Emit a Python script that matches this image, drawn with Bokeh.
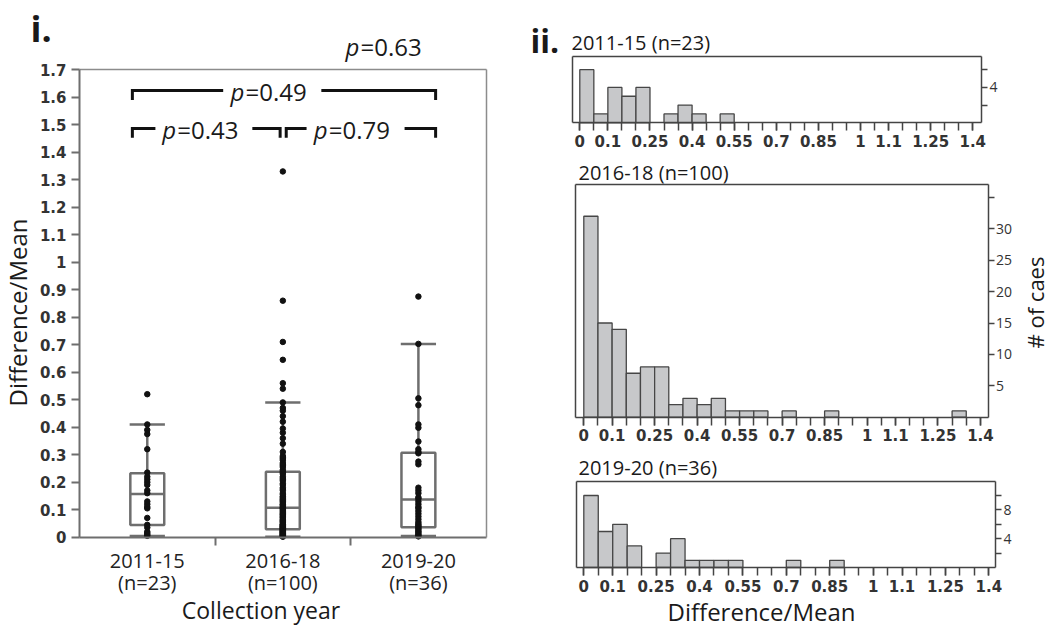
import math
from bokeh.plotting import figure
from bokeh.models import FixedTicker, CustomJSTickFormatter, Label, Range1d, LinearAxis
from bokeh.layouts import row, column
from bokeh.embed import file_html
from bokeh.resources import INLINE

# ---------------- data ----------------
groups = ["2011-15", "2016-18", "2019-20"]
group_n = [23, 100, 36]

vals_2011 = [0.005, 0.01, 0.015, 0.02, 0.035, 0.045, 0.07, 0.105, 0.11, 0.12, 0.13,
             0.16, 0.17, 0.19, 0.2, 0.21, 0.22, 0.235, 0.32, 0.375, 0.39, 0.41, 0.52]
vals_2016 = [0.002, 0.003, 0.005, 0.006, 0.008, 0.009, 0.01, 0.012, 0.013, 0.015, 0.016,
             0.018, 0.019, 0.02, 0.022, 0.023, 0.025, 0.026, 0.028, 0.029, 0.031, 0.032,
             0.034, 0.035, 0.037, 0.038, 0.04, 0.041, 0.043, 0.045, 0.046, 0.048,
             0.052, 0.055, 0.058, 0.06, 0.063, 0.066, 0.07, 0.073, 0.076, 0.08, 0.083,
             0.086, 0.09, 0.094, 0.098,
             0.102, 0.105, 0.108, 0.11, 0.115, 0.118, 0.12, 0.125, 0.13, 0.133, 0.137,
             0.14, 0.145, 0.148,
             0.155, 0.16, 0.17, 0.175, 0.18, 0.19, 0.195,
             0.205, 0.21, 0.215, 0.22, 0.23, 0.235, 0.24, 0.245,
             0.255, 0.26, 0.265, 0.27, 0.28, 0.285, 0.29, 0.295,
             0.31, 0.34, 0.36, 0.38, 0.395, 0.42, 0.44, 0.46, 0.47, 0.49,
             0.54, 0.56, 0.645, 0.71, 0.86, 1.33]
vals_2019 = [0.003, 0.008, 0.012, 0.018, 0.022, 0.028, 0.033, 0.038, 0.043, 0.048,
             0.055, 0.065, 0.075, 0.085, 0.095,
             0.105, 0.11, 0.12, 0.13, 0.14, 0.145,
             0.16, 0.17, 0.18, 0.265, 0.275, 0.305, 0.31, 0.32, 0.348,
             0.398, 0.41, 0.48, 0.505, 0.703, 0.875]

box_q1 = [0.044, 0.029, 0.036]
box_median = [0.157, 0.107, 0.137]
box_q3 = [0.233, 0.238, 0.307]
whisker_low = [0.004, 0.002, 0.004]
whisker_high = [0.41, 0.49, 0.703]

p_values = ["0.63", "0.49", "0.43", "0.79"]

bin_width = 0.05
hist_2011 = [6, 1, 4, 3, 4, 0, 1, 2, 1, 0, 1, 0, 0, 0, 0, 0, 0, 0, 0, 0, 0, 0, 0, 0, 0, 0, 0, 0]
hist_2016 = [32, 15, 14, 7, 8, 8, 2, 3, 2, 3, 1, 1, 1, 0, 1, 0, 0, 1, 0, 0, 0, 0, 0, 0, 0, 0, 1, 0]
hist_2019 = [10, 5, 6, 3, 0, 2, 4, 1, 1, 1, 1, 0, 0, 0, 1, 0, 0, 1, 0, 0, 0, 0, 0, 0, 0, 0, 0, 0]
hist_xlabels = [0, 0.1, 0.25, 0.4, 0.55, 0.7, 0.85, 1, 1.1, 1.25, 1.4]

# ---------------- style ----------------
GRAY = "#6e6e6e"
HGRAY = "#444444"
TXT = "#1a1a1a"
FONT = "Open Sans"
BASE_SHIFT = 0.35   # glyph baseline correction, in em


class Panel:
    """A figure whose frame fills the whole canvas; (x0, y0) is the pixel of data (0, 0)."""

    def __init__(self, w, h, x0, ux, y0, uy):
        self.x0, self.ux, self.y0, self.uy = x0, ux, y0, uy
        self.fig = figure(width=w, height=h,
                          x_range=Range1d(-x0 / ux, (w - x0) / ux),
                          y_range=Range1d(-(h - y0) / uy, y0 / uy),
                          x_axis_location=None, y_axis_location=None, min_border=0,
                          output_backend="svg", toolbar_location=None)
        self.fig.grid.visible = False
        self.fig.outline_line_color = None

    def text(self, px, py, text, size, style="normal", align="left", angle=0.0,
             x_offset=0, shift=True):
        if shift:
            py -= BASE_SHIFT * size
        self.fig.add_layout(Label(x=(px - self.x0) / self.ux, y=(self.y0 - py) / self.uy,
                                  text=text, text_font=FONT, text_font_size=f"{size}px",
                                  text_font_style=style, text_align=align,
                                  text_baseline="alphabetic", angle=angle,
                                  x_offset=x_offset, text_color=TXT))


def border_axis(fig, side, loc, bounds, color, width):
    ax = LinearAxis(fixed_location=loc, bounds=bounds, ticker=FixedTicker(ticks=[]),
                    axis_line_color=color, axis_line_width=width,
                    major_tick_line_color=None, minor_tick_line_color=None,
                    major_label_text_font_size="0px")
    fig.add_layout(ax, side)
    return ax


# ---------------- left panel (box plot) ----------------
L = Panel(520, 630, 79, 135.56, 536.7, 275)
p = L.fig
n_groups = len(groups)

ya = LinearAxis(fixed_location=0, bounds=(0, 1.7),
                ticker=FixedTicker(ticks=[round(i * 0.1, 1) for i in range(18)]),
                formatter=CustomJSTickFormatter(code="return String(Math.round(tick*10)/10);"))
ya.major_label_text_font = "DejaVu Sans"
ya.major_label_text_font_style = "bold"
ya.major_label_text_font_size = "15px"
ya.major_label_text_color = "#333333"
ya.major_tick_out = 8
ya.major_tick_in = 0
ya.minor_tick_out = 0
ya.minor_tick_in = 0
ya.major_label_standoff = 5
ya.axis_line_color = GRAY
ya.axis_line_width = 2
ya.major_tick_line_color = GRAY
ya.major_tick_line_width = 2
p.add_layout(ya, "left")

xlabels = [f"{g}\n(n={n})" for g, n in zip(groups, group_n)]
xa = LinearAxis(fixed_location=0, bounds=(0, n_groups),
                ticker=FixedTicker(ticks=[i + 0.5 for i in range(n_groups)],
                                   minor_ticks=list(range(1, n_groups))),
                formatter=CustomJSTickFormatter(args=dict(labels=xlabels),
                                                code="return labels[Math.round(tick-0.5)];"))
xa.major_tick_out = 0
xa.major_tick_in = 0
xa.minor_tick_out = 8
xa.minor_tick_in = 0
xa.minor_tick_line_color = GRAY
xa.minor_tick_line_width = 2
xa.axis_line_color = GRAY
xa.axis_line_width = 2
xa.major_label_text_font = FONT
xa.major_label_text_font_size = "20px"
xa.major_label_text_line_height = 0.8
xa.major_label_text_color = "#222222"
xa.major_label_standoff = 2
p.add_layout(xa, "below")

border_axis(p, "above", 1.7, (0, n_groups), "#8c8c8c", 1.5)
border_axis(p, "right", n_groups, (0, 1.7), "#8c8c8c", 1.5)

centers = [i + 0.5 for i in range(n_groups)]
half = 0.125
cap = 0.13

p.quad(left=[c - half for c in centers], right=[c + half for c in centers],
       bottom=box_q1, top=box_q3, fill_color=None, line_color=GRAY, line_width=2.5)
p.segment(x0=[c - half for c in centers], x1=[c + half for c in centers],
          y0=box_median, y1=box_median, line_color=GRAY, line_width=2.5)
p.segment(x0=centers, x1=centers, y0=box_q3, y1=whisker_high, line_color=GRAY, line_width=2.5)
p.segment(x0=centers, x1=centers, y0=box_q1, y1=whisker_low, line_color=GRAY, line_width=2.5)
p.segment(x0=[c - cap for c in centers], x1=[c + cap for c in centers],
          y0=whisker_high, y1=whisker_high, line_color=GRAY, line_width=2.5)
p.segment(x0=[c - cap for c in centers], x1=[c + cap for c in centers],
          y0=whisker_low, y1=whisker_low, line_color=GRAY, line_width=2.5)

px, py = [], []
for c, vals in zip(centers, [vals_2011, vals_2016, vals_2019]):
    px += [c] * len(vals)
    py += vals
p.scatter(x=px, y=py, size=5.5, fill_color="#111111", line_color="#111111", marker="circle")

# significance brackets
top_y, top_leg = 1.624, 1.59
low_y, low_leg = 1.486, 1.453
bx = [[0.39, 0.39, 1.06], [1.784, 2.627, 2.627],
      [0.39, 0.39, 0.56], [1.275, 1.48, 1.48],
      [1.525, 1.525, 1.675], [2.398, 2.627, 2.627]]
by = [[top_leg, top_y, top_y], [top_y, top_y, top_leg],
      [low_leg, low_y, low_y], [low_y, low_y, low_leg],
      [low_leg, low_y, low_y], [low_y, low_y, low_leg]]
p.multi_line(xs=bx, ys=by, line_color="#111111", line_width=3, line_join="miter")

for (x, y), pv in zip([(345, 54), (230, 99.5), (161.7, 137.7), (313.3, 137.7)], p_values):
    L.text(x, y, "p", 24, style="italic")
    L.text(x, y, "=" + pv, 24, x_offset=15)

L.text(30, 41, "i.", 36, style="bold")
L.text(17, 312, "Difference/Mean", 24, align="center", angle=math.pi / 2, shift=False)
L.text(260.5, 618, "Collection year", 23, align="center")


# ---------------- right panels (histograms) ----------------
def hist_panel(counts, w, h, x0, ux, y0, uy, box_x, box_top, yticks, yminor):
    P = Panel(w, h, x0, ux, y0, uy)
    f = P.fig
    left = [i * bin_width for i, c in enumerate(counts) if c > 0]
    right = [(i + 1) * bin_width for i, c in enumerate(counts) if c > 0]
    top = [c for c in counts if c > 0]
    f.quad(left=left, right=right, bottom=0, top=top, fill_color="#c7c8ca",
           line_color="#464646", line_width=1.3)

    xa = LinearAxis(fixed_location=0, bounds=box_x,
                    ticker=FixedTicker(ticks=hist_xlabels,
                                       minor_ticks=[round(i * bin_width, 2) for i in range(29)]),
                    formatter=CustomJSTickFormatter(code="return String(Math.round(tick*100)/100);"))
    xa.major_tick_out = 8
    xa.major_tick_in = 0
    xa.minor_tick_out = 8
    xa.minor_tick_in = 0
    for a in ("major", "minor"):
        setattr(xa, f"{a}_tick_line_color", HGRAY)
        setattr(xa, f"{a}_tick_line_width", 1.5)
    xa.axis_line_color = HGRAY
    xa.axis_line_width = 1.5
    xa.major_label_text_font = "DejaVu Sans"
    xa.major_label_text_font_style = "bold"
    xa.major_label_text_font_size = "15px"
    xa.major_label_text_color = "#333333"
    xa.major_label_standoff = 4
    f.add_layout(xa, "below")

    ya = LinearAxis(fixed_location=box_x[1], bounds=(0, box_top),
                    ticker=FixedTicker(ticks=yticks, minor_ticks=yminor))
    ya.major_tick_out = 6
    ya.major_tick_in = 0
    ya.minor_tick_out = 6
    ya.minor_tick_in = 0
    for a in ("major", "minor"):
        setattr(ya, f"{a}_tick_line_color", HGRAY)
        setattr(ya, f"{a}_tick_line_width", 1.5)
    ya.axis_line_color = HGRAY
    ya.axis_line_width = 1.5
    ya.major_label_text_font = FONT
    ya.major_label_text_font_size = "14px"
    ya.major_label_text_color = "#333333"
    ya.major_label_standoff = 2
    f.add_layout(ya, "right")

    border_axis(f, "left", box_x[0], (0, box_top), HGRAY, 1.5)
    border_axis(f, "above", box_top, box_x, HGRAY, 1.5)
    return P


# right column: page x 520..1050; panels stacked at page y 0, 150, 445
H1 = hist_panel(hist_2011, 530, 150, 59.3, 280.7, 122.3, 8.85, (-0.027, 1.431), 7.46, [4], [2, 6])
H1.text(530 - 520, 51, "ii.", 32, style="bold")
H1.text(571 - 520, 49, f"{groups[0]} (n={group_n[0]})", 20)

H2 = hist_panel(hist_2016, 530, 295, 63.3, 283.3, 266.7, 6.28, (-0.029, 1.427), 37.1,
                [5, 10, 15, 20, 25, 30], [35])
H2.text(578 - 520, 179 - 150, f"{groups[1]} (n={group_n[1]})", 20)
H2.text(1034 - 520, 302 - 150, "# of caes", 22, align="center", angle=math.pi / 2, shift=False)

H3 = hist_panel(hist_2019, 530, 185, 63.3, 289.3, 122, 7.2, (-0.026, 1.423), 11.94,
                [4, 8], [2, 6, 10])
H3.text(578 - 520, 474 - 445, f"{groups[2]} (n={group_n[2]})", 20)
H3.text(761 - 520, 619 - 445, "Difference/Mean", 24, align="center")

layout = row(p, column(H1.fig, H2.fig, H3.fig))
open("out.html", "w").write(file_html(layout, INLINE))
